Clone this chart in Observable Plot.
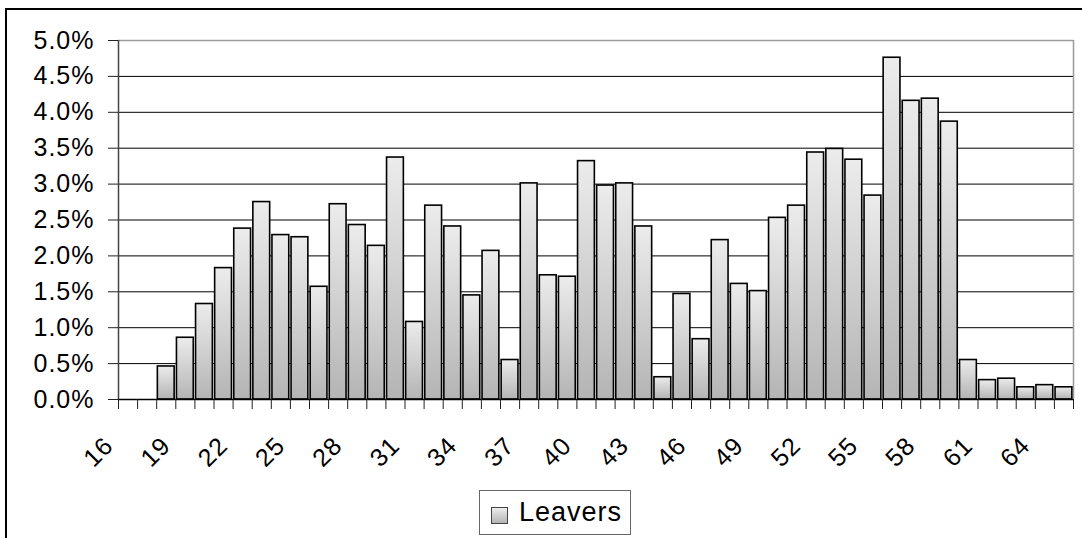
<!DOCTYPE html>
<html><head><meta charset="utf-8">
<script src="https://cdn.jsdelivr.net/npm/d3@7"></script>
<script src="https://cdn.jsdelivr.net/npm/@observablehq/plot@0.6"></script>
<style>
html,body{margin:0;padding:0;background:#fff;}
#wrap{position:relative;width:1082px;height:538px;overflow:hidden;font-family:"Liberation Sans",Arial,sans-serif;}
#frame{position:absolute;left:5px;top:8px;width:1200px;height:700px;border-left:2px solid #000;border-top:2px solid #000;}
#chart{position:absolute;left:0;top:0;}
#chart svg text{font-size:25px !important;letter-spacing:1px;fill:#000;}
#legend{position:absolute;left:479px;top:490px;width:152px;height:45px;border:1px solid #666;box-sizing:border-box;background:#fff;}
#legend .sw{position:absolute;left:11px;top:16px;width:17px;height:17px;box-sizing:border-box;border:1px solid #444;background:linear-gradient(#ececec,#b4b4b4);}
#legend .lb{position:absolute;left:39px;top:4px;font-size:27px;letter-spacing:1px;line-height:34px;color:#000;}
</style>
</head><body>
<div id="wrap">
  <div id="frame"></div>
  <div id="chart"></div>
  <div id="legend"><span class="sw"></span><span class="lb">Leavers</span></div>
</div>
<script>
// Categories: age
const ages = [16,17,18,19,20,21,22,23,24,25,26,27,28,29,30,31,32,33,34,35,36,37,38,39,40,41,42,43,44,45,46,47,48,49,50,51,52,53,54,55,56,57,58,59,60,61,62,63,64,65];
// Series: Leavers (% of total)
const leavers = [0,0,0.46,0.86,1.33,1.83,2.38,2.75,2.29,2.26,1.57,2.72,2.43,2.14,3.37,1.08,2.70,2.41,1.45,2.07,0.55,3.01,1.73,1.71,3.32,2.98,3.01,2.41,0.31,1.47,0.84,2.22,1.61,1.51,2.53,2.70,3.44,3.49,3.34,2.84,4.76,4.16,4.19,3.87,0.55,0.27,0.29,0.17,0.20,0.17];
// Tick labels
const xTickLabels = [16,19,22,25,28,31,34,37,40,43,46,49,52,55,58,61,64];
const yTicks = [0,0.005,0.01,0.015,0.02,0.025,0.03,0.035,0.04,0.045,0.05];

const data = ages.map((a,i)=>({age:a, v:leavers[i]/100}));
const boundaries = ages.map(a=>a-0.5).concat([ages[ages.length-1]+0.5]);
const xDomain = [boundaries[0], boundaries[boundaries.length-1]];

function gradientDefs(){
  const ns="http://www.w3.org/2000/svg";
  const defs=document.createElementNS(ns,"defs");
  defs.innerHTML='<linearGradient id="barGrad" x1="0" y1="0" x2="0" y2="1"><stop offset="0" stop-color="#ececec"/><stop offset="1" stop-color="#b4b4b4"/></linearGradient>';
  return defs;
}

const chart = Plot.plot({
  width:1082, height:480,
  marginLeft:118, marginRight:9, marginTop:40, marginBottom:81,
  x:{type:"linear", domain:xDomain},
  y:{domain:[0,0.05]},
  style:{fontFamily:'"Liberation Sans",Arial,sans-serif', fontSize:"25px", color:"#000", background:"transparent", overflow:"visible"},
  marks:[
    gradientDefs,
    Plot.ruleY(yTicks.filter(t=>t>0 && t<0.05), {stroke:"#000", strokeWidth:1}),
    Plot.ruleY([0.05], {stroke:"#9a9a9a", strokeWidth:1.5}),
    Plot.ruleX([xDomain[1]], {y1:0, y2:0.05, stroke:"#9a9a9a", strokeWidth:1.5}),
    Plot.rectY(data.filter(d=>d.v>0), {x1:d=>d.age-0.44, x2:d=>d.age+0.44, y:"v", fill:"url(#barGrad)", stroke:"#000", strokeWidth:1.6}),
    Plot.ruleX([xDomain[0]], {y1:0, y2:0.05, stroke:"#444", strokeWidth:1.5}),
    Plot.ruleY([0], {stroke:"#000", strokeWidth:1.5}),
    Plot.axisY({ticks:yTicks, tickFormat:d3.format(".1%"), tickSize:10, tickPadding:14, label:null, stroke:"#222"}),
    Plot.axisX({ticks:boundaries, tickSize:10, tickFormat:()=>"", label:null, stroke:"#222"}),
    Plot.axisX({ticks:xTickLabels, tickSize:0, tickRotate:-45, tickPadding:42, dx:-19, label:null})
  ]
});
document.getElementById("chart").appendChild(chart);
</script>
</body></html>
